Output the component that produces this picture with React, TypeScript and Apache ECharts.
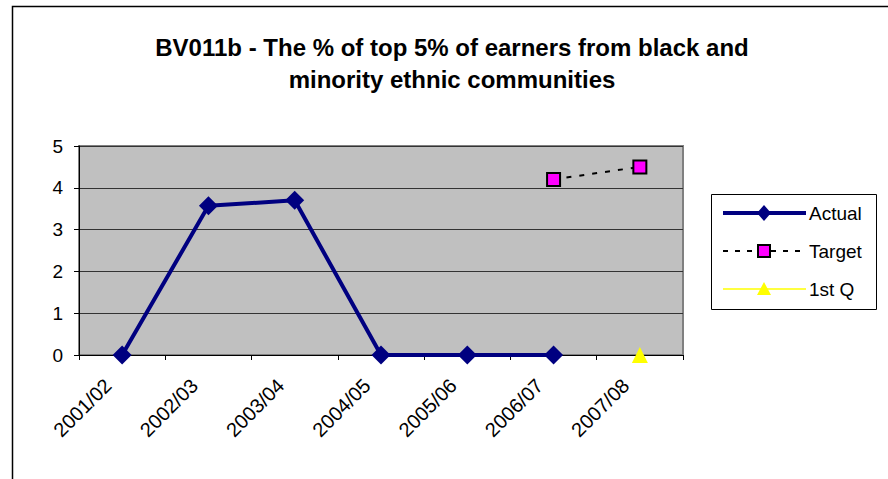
import React, { useEffect, useRef } from "react";
import * as echarts from "echarts";

const categories = ["2001/02", "2002/03", "2003/04", "2004/05", "2005/06", "2006/07", "2007/08"];
const actual = [0, 3.57, 3.7, 0, 0, 0, null];
const target = [null, null, null, null, null, 4.2, 4.5];
const firstQ = [null, null, null, null, null, null, 0];
const yTicks = { min: 0, max: 5, interval: 1 };
const seriesNames = ["Actual", "Target", "1st Q"];
const titleLines = [
  "BV011b - The % of top 5% of earners from black and",
  "minority ethnic communities",
];

const FONT = 'Arial, "Liberation Sans", sans-serif';

export default function App() {
  const ref = useRef<HTMLDivElement>(null);
  useEffect(() => {
    document.body.style.margin = "0";
    const chart = echarts.init(ref.current!, null, { renderer: "svg" });

    const lx0 = 723, lx1 = 806, lmid = 764;
    const rows = [213, 251, 289];
    const legendEls: any[] = [
      {
        type: "rect",
        shape: { x: 711.5, y: 194.5, width: 165, height: 115 },
        style: { fill: "#fff", stroke: "#000", lineWidth: 1 },
        silent: true,
      },
      { type: "line", shape: { x1: lx0, y1: rows[0], x2: lx1, y2: rows[0] }, style: { stroke: "#000080", lineWidth: 4 } },
      {
        type: "polygon",
        shape: { points: [[lmid, rows[0] - 8], [lmid + 7, rows[0]], [lmid, rows[0] + 8], [lmid - 7, rows[0]]] },
        style: { fill: "#000080" },
      },
      { type: "line", shape: { x1: lx0, y1: rows[1], x2: lx1, y2: rows[1] }, style: { stroke: "#000", lineWidth: 2, lineDash: [5, 7] } },
      {
        type: "rect",
        shape: { x: lmid - 6, y: rows[1] - 6, width: 12, height: 12 },
        style: { fill: "#ff00ff", stroke: "#000", lineWidth: 2 },
      },
      { type: "line", shape: { x1: lx0, y1: rows[2], x2: lx1, y2: rows[2] }, style: { stroke: "#ffff00", lineWidth: 1.5 } },
      {
        type: "polygon",
        shape: { points: [[lmid, rows[2] - 7], [lmid + 7, rows[2] + 6], [lmid - 7, rows[2] + 6]] },
        style: { fill: "#ffff00" },
      },
    ];
    seriesNames.forEach((n, i) => {
      legendEls.push({
        type: "text",
        x: 809,
        y: rows[i],
        style: { text: n, fontFamily: FONT, fontSize: 19, fill: "#000", textAlign: "left", textVerticalAlign: "middle" },
      });
    });

    chart.setOption({
      animation: false,
      backgroundColor: "#ffffff",
      textStyle: { fontFamily: FONT },
      graphic: [
        {
          type: "rect",
          shape: { x: 12.5, y: 6.5, width: 1000, height: 600 },
          style: { fill: "none", stroke: "#000", lineWidth: 1.5 },
          silent: true,
        },
        ...titleLines.map((t, i) => ({
          type: "text",
          x: 452,
          y: 47 + i * 32,
          style: {
            text: t,
            fontFamily: FONT,
            fontSize: 24,
            fontWeight: "bold",
            fill: "#000",
            textAlign: "center",
            textVerticalAlign: "middle",
          },
        })),
        ...legendEls,
      ],
      grid: {
        left: 79,
        top: 146,
        width: 604,
        height: 209,
        show: true,
        backgroundColor: "#c0c0c0",
        borderColor: "#808080",
        borderWidth: 2,
        containLabel: false,
      },
      legend: { show: false, data: seriesNames },
      xAxis: {
        type: "category",
        data: categories,
        boundaryGap: true,
        axisLine: { lineStyle: { color: "#000", width: 1 } },
        axisTick: { show: true, length: 5, lineStyle: { color: "#000" } },
        axisLabel: {
          rotate: 45,
          fontSize: 20,
          color: "#000",
          fontFamily: FONT,
          margin: 13,
          padding: [0, 20, 0, 0],
        },
        splitLine: { show: false },
      },
      yAxis: {
        type: "value",
        min: yTicks.min,
        max: yTicks.max,
        interval: yTicks.interval,
        axisLine: { show: true, lineStyle: { color: "#000", width: 1 } },
        axisTick: { show: true, length: 5, lineStyle: { color: "#000" } },
        axisLabel: { fontSize: 19, color: "#000", fontFamily: FONT, margin: 16 },
        splitLine: { show: true, lineStyle: { color: "#333", width: 1 } },
      },
      series: [
        {
          name: seriesNames[0],
          type: "line",
          data: actual,
          symbol: "diamond",
          symbolSize: 19,
          lineStyle: { color: "#000080", width: 4 },
          itemStyle: { color: "#000080" },
          z: 3,
        },
        {
          name: seriesNames[1],
          type: "line",
          data: target,
          symbol: "rect",
          symbolSize: 13,
          lineStyle: { color: "#000", width: 2, type: [5, 8] },
          itemStyle: { color: "#ff00ff", borderColor: "#000", borderWidth: 2 },
          z: 4,
        },
        {
          name: seriesNames[2],
          type: "line",
          data: firstQ,
          symbol: "triangle",
          symbolSize: 16,
          lineStyle: { color: "#ffff00", width: 1.5 },
          itemStyle: { color: "#ffff00" },
          z: 5,
        },
      ],
    });
    return () => chart.dispose();
  }, []);
  return <div ref={ref} style={{ position: "absolute", left: 0, top: 0, width: 888, height: 479 }} />;
}
